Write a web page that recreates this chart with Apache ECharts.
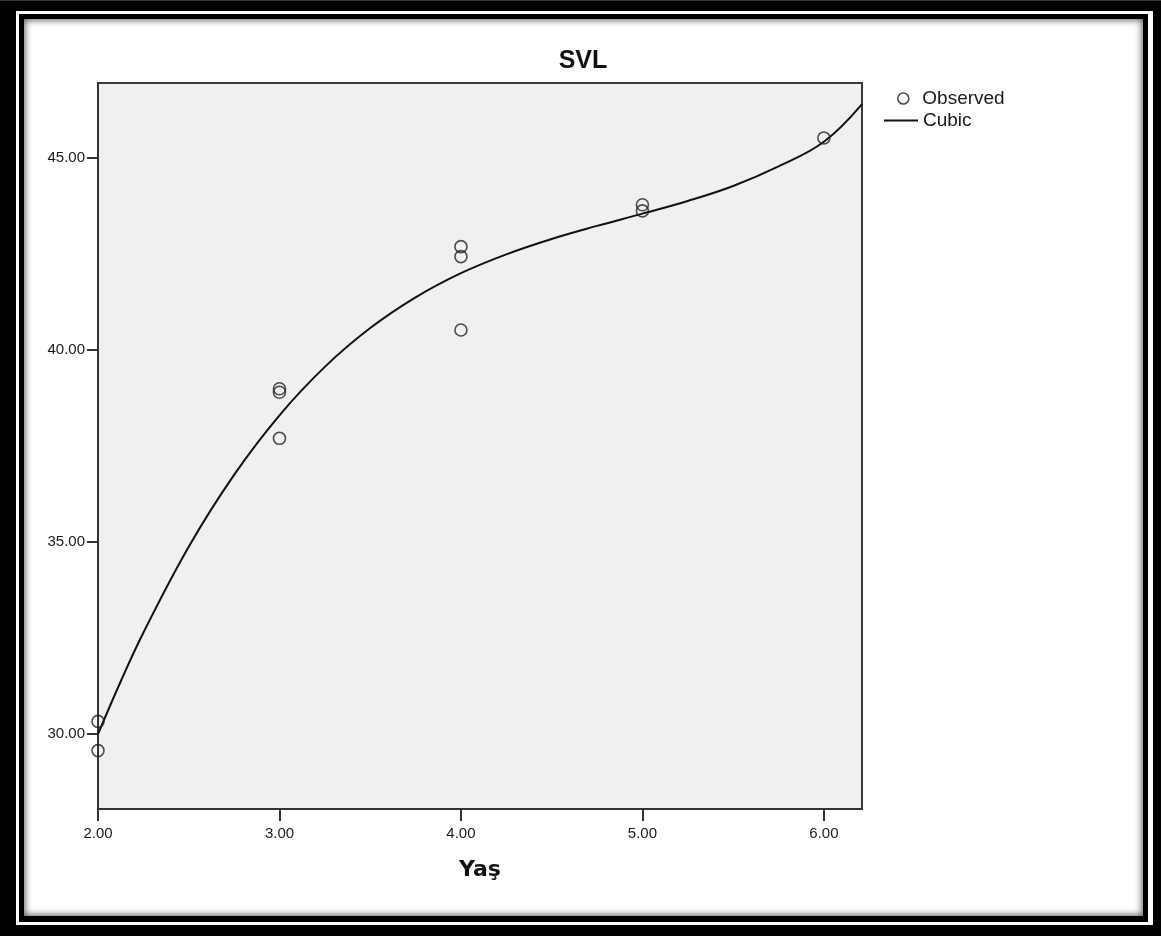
<!DOCTYPE html>
<html>
<head>
<meta charset="utf-8">
<script src="https://cdn.jsdelivr.net/npm/echarts@6/dist/echarts.min.js"></script>
<style>
  html, body { margin: 0; padding: 0; width: 1161px; height: 936px; background: #000; overflow: hidden; }
  #topline { position: absolute; left: 0; top: 0; width: 1161px; height: 1px; background: #333; }
  #f1 { position: absolute; left: 16px; top: 11px; width: 1137px; height: 914px; background: #fff; }
  #f2 { position: absolute; left: 19px; top: 14px; width: 1129px; height: 908px; background: #000; }
  #f3 { position: absolute; left: 24px; top: 19px; width: 1119px; height: 897px; background: #fff;
        box-shadow: inset 0 0 7px 1px rgba(0,0,0,0.65); }
  #chart { position: absolute; left: 0; top: 0; width: 1161px; height: 936px; }
</style>
</head>
<body>
<div id="topline"></div>
<div id="f1"></div>
<div id="f2"></div>
<div id="f3"></div>
<div id="chart"></div>
<script>
// Observed data points (Yaş vs SVL)
const ageObs = [2, 2, 3, 3, 3, 4, 4, 4, 5, 5, 6];
const svlObs = [30.33, 29.57, 38.99, 38.90, 37.70, 42.69, 42.43, 40.52, 43.78, 43.62, 45.52];

// Cubic fit curve
const ageFit = [2.0, 2.125, 2.25, 2.5, 2.75, 3.0, 3.25, 3.5, 3.75, 4.0, 4.25, 4.5, 4.75, 5.0, 5.25, 5.5, 5.75, 6.0, 6.21];
const svlFit = [30.0, 31.37, 32.64, 34.88, 36.75, 38.3, 39.56, 40.57, 41.37, 42.0, 42.49, 42.89, 43.23, 43.55, 43.88, 44.27, 44.78, 45.42, 46.4];

const xTicks = [2, 3, 4, 5, 6];
const yTicks = [30, 35, 40, 45];

const titleText = 'SVL';
const xName = 'Yaş';
const seriesNames = ['Observed', 'Cubic'];

const chart = echarts.init(document.getElementById('chart'), null, { renderer: 'canvas' });

const labelFont = { fontFamily: 'Liberation Sans', fontSize: 15, color: '#1a1a1a' };
const legendFont = { fontFamily: 'Liberation Sans', fontSize: 19, color: '#1a1a1a' };

chart.setOption({
  animation: false,
  backgroundColor: 'transparent',
  grid: {
    left: 98, top: 83, width: 764, height: 726,
    show: true, backgroundColor: '#f0f0f0', borderColor: '#3a3a3a', borderWidth: 2
  },
  graphic: [
    { type: 'text', style: { text: titleText, x: 583, y: 61, align: 'center', verticalAlign: 'middle',
      font: 'bold 25px "Liberation Sans"', fill: '#111' } },
    { type: 'text', style: { text: xName, x: 480, y: 870, align: 'center', verticalAlign: 'middle',
      font: 'bold 22px "DejaVu Sans"', fill: '#111' } }
  ],
  legend: [
    {
      data: [{ name: seriesNames[0], icon: 'circle' }],
      left: 892, top: 84, itemWidth: 28, itemHeight: 11, orient: 'vertical',
      textStyle: legendFont, selectedMode: false,
      itemStyle: { color: 'transparent', borderColor: '#222', borderWidth: 1.6 }
    },
    {
      data: [{ name: seriesNames[1], icon: 'rect' }],
      left: 879, top: 106, itemWidth: 34, itemHeight: 2, orient: 'vertical',
      textStyle: legendFont, selectedMode: false,
      itemStyle: { color: '#111', borderWidth: 0 }
    }
  ],
  xAxis: {
    type: 'value', min: 2, max: 6.21,
    axisLine: { show: true, lineStyle: { color: '#333', width: 2 } },
    axisTick: { show: true, length: 12, customValues: xTicks, lineStyle: { color: '#333', width: 2 } },
    axisLabel: { customValues: xTicks, margin: 17, formatter: v => v.toFixed(2), ...labelFont },
    splitLine: { show: false }
  },
  yAxis: {
    type: 'value', min: 28.05, max: 46.95,
    axisLine: { show: true, lineStyle: { color: '#333', width: 2 } },
    axisTick: { show: true, length: 11, customValues: yTicks, lineStyle: { color: '#333', width: 2 } },
    axisLabel: { customValues: yTicks, margin: 13, formatter: v => v.toFixed(2), ...labelFont },
    splitLine: { show: false }
  },
  series: [
    {
      name: seriesNames[0], type: 'scatter',
      data: ageObs.map((a, i) => [a, svlObs[i]]),
      symbol: 'circle', symbolSize: 12,
      itemStyle: { color: 'transparent', borderColor: '#222', borderWidth: 1.6 },
      z: 3
    },
    {
      name: seriesNames[1], type: 'line',
      data: ageFit.map((a, i) => [a, svlFit[i]]),
      smooth: 0.4, symbol: 'none',
      lineStyle: { color: '#111', width: 2 },
      itemStyle: { color: '#111' },
      clip: true, z: 2
    }
  ]
});
</script>
</body>
</html>
